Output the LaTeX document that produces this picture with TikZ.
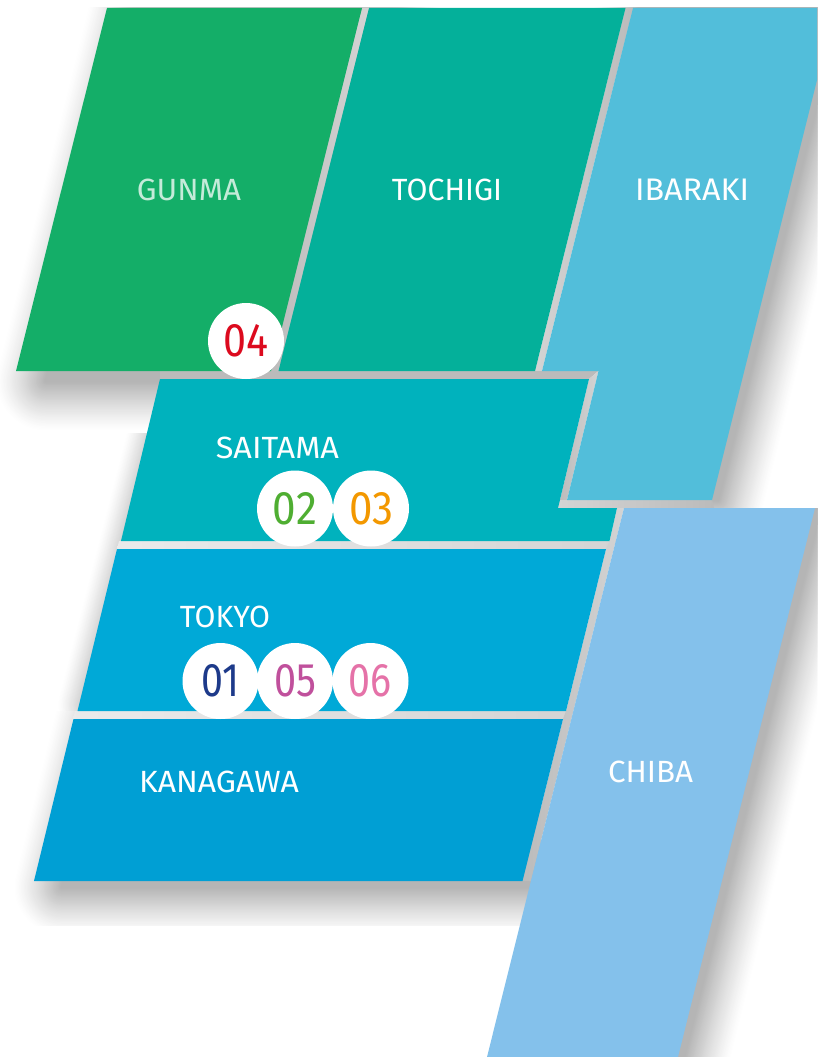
\documentclass[tikz,border=0pt]{standalone}
\usepackage{fontspec}
\usepackage{graphicx}
\setmainfont{Fira Sans}
\definecolor{cGunma}{HTML}{14AE68}
\definecolor{cTochigi}{HTML}{04B09A}
\definecolor{cIbaraki}{HTML}{52BEDA}
\definecolor{cSaitama}{HTML}{00B2BD}
\definecolor{cTokyo}{HTML}{00A9D7}
\definecolor{cKanagawa}{HTML}{009FD4}
\definecolor{cChiba}{HTML}{84C1EB}
\definecolor{gapA}{HTML}{BBBBBB}
\definecolor{gapB}{HTML}{D4D4D4}
\newcommand{\areatext}[3]{\resizebox{#1pt}{#2pt}{#3}}
\tikzset{
  area/.style={draw=none},
  label area/.style={text=white,inner sep=0pt,anchor=center},
  badge/.style={circle,fill=white,draw=none,minimum size=76pt,inner sep=0pt}
}
% #1,#2 offset; #3 blur half-width; #4 outline
\newcommand{\softshadow}[4]{%
  \foreach \t in {40,39,...,1}{%
    \pgfmathsetmacro{\lw}{\t/40*2*#3}%
    \pgfmathsetmacro{\uu}{\t/40}%
    \pgfmathsetmacro{\pp}{30*(1-\uu)^1.2}%
    \path[shift={(#1,#2)},fill=black!\pp,draw=black!\pp,line join=round,line width=\lw pt] #4;}}
\begin{document}
\begin{tikzpicture}[x=1pt,y=-1pt]
\useasboundingbox (0,0) rectangle (817,1057);
\clip (0,0) rectangle (817,1057);
% soft shadows
\begin{scope}
\clip (0,8) rectangle (817,433);
\softshadow{30}{10}{50}{(107,8)--(362,8)--(271,371)--(16,371)--cycle}
\end{scope}
\begin{scope}
\clip (0,433) rectangle (300,711);
\softshadow{14}{0}{34}{(160,385)--(400,385)--(400,705)--(78,705)--cycle}
\end{scope}
\begin{scope}
\clip (0,711) rectangle (540,925);
\softshadow{28}{6}{48}{(73.5,719)--(563,719)--(522.5,881)--(34,881)--cycle}
\end{scope}
\begin{scope}
\clip (0,8) rectangle (817,508);
\softshadow{6}{0}{46}{(633,8)--(835,8)--(712,500)--(640,500)--cycle}
\end{scope}
\begin{scope}
\clip (0,508) rectangle (817,1057);
\softshadow{6}{0}{46}{(700,508)--(815,508)--(678,1057)--(560,1057)--cycle}
\end{scope}
% grey gaps
\shade[left color=gapA,right color=gapB] (362,8)--(369,8)--(278.5,371)--(271,371)--cycle;
\shade[left color=gapB,right color=gapA] (625.5,8)--(633,8)--(542,371)--(535,371)--cycle;
\shade[left color=gapA,middle color=gapB,right color=gapA] (160,371)--(598.5,371)--(589,379)--(160,379)--cycle;
\shade[left color=gapA,right color=gapB] (589,379)--(598.5,371)--(567,500)--(558,508)--cycle;
\shade[left color=gapB,right color=gapA] (558,500)--(567,500)--(712,500)--(714,508)--(558,508)--cycle;
\shade[left color=white!70!gapA,middle color=gapA,right color=gapB] (119,541)--(617,541)--(609,549)--(117,549)--cycle;
\shade[left color=white!70!gapA,middle color=gapA,right color=gapB] (75,711)--(570,711)--(566,719)--(73,719)--cycle;
\shade[left color=gapA,right color=gapB] (617,508)--(624,508)--(531,881)--(522.5,881)--(563,719)--(566,711)--(606,549)--(609.5,541)--cycle;
% prefecture shapes
\fill[area,cGunma] (107,8)--(362,8)--(271,371)--(16,371)--cycle;
\fill[area,cTochigi] (369,8)--(625.5,8)--(535,371)--(278.5,371)--cycle;
\fill[area,cIbaraki] (633,8)--(835,8)--(712,500)--(567,500)--(598.5,371)--(542,371)--cycle;
\fill[area,cSaitama] (160,379)--(589,379)--(558,508)--(617,508)--(609.5,541)--(121,541)--cycle;
\fill[area,cTokyo] (117,549)--(606,549)--(566,711)--(77.5,711)--cycle;
\fill[area,cKanagawa] (73.5,719)--(563,719)--(522.5,881)--(34,881)--cycle;
\fill[area,cChiba] (624,508)--(815,508)--(678,1057)--(487,1057)--cycle;
% labels
\node[label area,text=white!75!cGunma] (gunma) at (189,189.5) {\areatext{104}{21.5}{GUNMA}};
\node[label area] (tochigi) at (447,189.5) {\areatext{110}{21.5}{TOCHIGI}};
\node[label area] (ibaraki) at (692,189.5) {\areatext{114}{21.5}{IBARAKI}};
\node[label area] (saitama) at (277.5,448) {\areatext{123}{21.5}{SAITAMA}};
\node[label area] (tokyo) at (225,617) {\areatext{90}{21.5}{TOKYO}};
\node[label area] (kanagawa) at (219,781.5) {\areatext{160}{21.5}{KANAGAWA}};
\node[label area] (chiba) at (650.5,772) {\areatext{85}{21.5}{CHIBA}};
% badges
\node[badge] (b04) at (246,341) {\textcolor[HTML]{DC0A1E}{\areatext{45}{32}{04}}};
\node[badge] (b02) at (295,508.5) {\textcolor[HTML]{4FAE32}{\areatext{44}{32}{02}}};
\node[badge] (b03) at (371,508.5) {\textcolor[HTML]{F39800}{\areatext{44}{32}{03}}};
\node[badge] (b01) at (220.5,681) {\textcolor[HTML]{1D3A8A}{\areatext{38}{32}{01}}};
\node[badge] (b05) at (295,681) {\textcolor[HTML]{C0509C}{\areatext{42}{32}{05}}};
\node[badge] (b06) at (370.5,681) {\textcolor[HTML]{E572A8}{\areatext{43}{32}{06}}};
\end{tikzpicture}
\end{document}
